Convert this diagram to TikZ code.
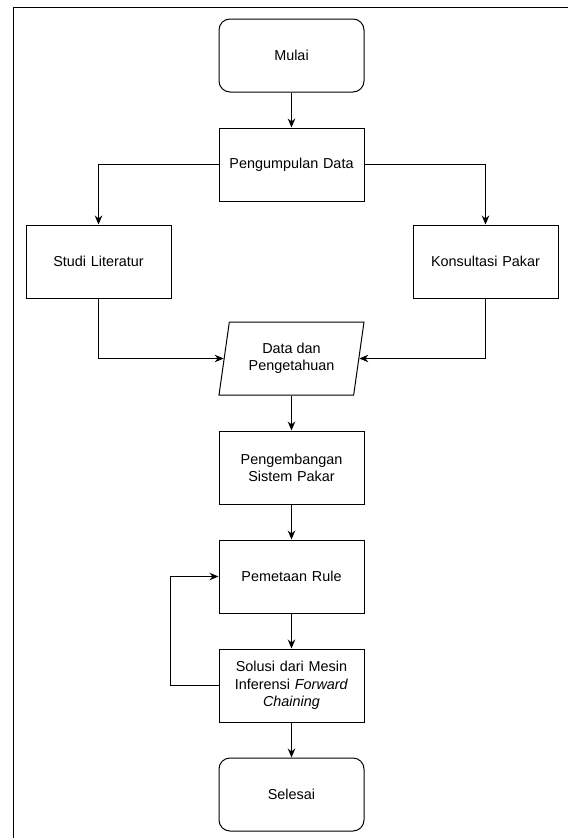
\documentclass[tikz,border=0pt]{standalone}
\usepackage{fontspec}
\setmainfont{Liberation Sans}
\usetikzlibrary{shapes.geometric,arrows.meta}

\begin{document}
\begin{tikzpicture}[x=1pt,y=-1pt,
  every node/.style={font=\fontsize{14.4pt}{17.3pt}\selectfont},
  prosesbox/.style={draw,line width=1pt,minimum width=145pt,minimum height=73pt,text width=135pt,align=center,inner sep=0pt},
  terminalbox/.style={prosesbox,rounded corners=11pt},
  databox/.style={draw,line width=1pt,trapezium,trapezium left angle=71.4,trapezium right angle=108.6,trapezium stretches body,minimum width=145pt,minimum height=73pt,align=center,inner sep=0pt},
  panah/.style={-{Stealth[length=9pt,width=7.5pt]},line width=1pt}]
\useasboundingbox (0,0) rectangle (568,838);
%draw frame
\draw[line width=1.3pt] (13.5,838) -- (13.5,7.5) -- (568,7.5);
%draw nodes
\node[terminalbox] (mulai) at (291.5,55.5) {Mulai};
\node[prosesbox] (kumpul) at (291.5,164.5) {Pengumpulan Data};
\node[prosesbox] (studi) at (98.5,261.5) {Studi Literatur};
\node[prosesbox] (konsul) at (485.5,261.5) {Konsultasi Pakar};
\node[databox] (data) at (291.5,358.5) {Data dan\\Pengetahuan};
\node[prosesbox] (kembang) at (291.5,467.5) {Pengembangan\\Sistem Pakar};
\node[prosesbox] (rule) at (291.5,576.5) {Pemetaan Rule};
\node[prosesbox] (solusi) at (291.5,685.5) {Solusi dari Mesin\\Inferensi \textit{Forward}\\\textit{Chaining}};
\node[terminalbox] (selesai) at (291.5,794.5) {Selesai};
\coordinate (putar) at (170,0);
%draw arrows
\draw[panah] (mulai) -- (kumpul);
\draw[panah] (kumpul.west) -| (studi.north);
\draw[panah] (kumpul.east) -| (konsul.north);
\draw[panah] (studi.south) |- (data.west);
\draw[panah] (konsul.south) |- (data.east);
\draw[panah] (data) -- (kembang);
\draw[panah] (kembang) -- (rule);
\draw[panah] (rule) -- (solusi);
\draw[panah] (solusi) -- (selesai);
%loop back
\draw[panah] (solusi.west) -- (solusi.west -| putar) |- (rule.west);
\end{tikzpicture}
\end{document}
